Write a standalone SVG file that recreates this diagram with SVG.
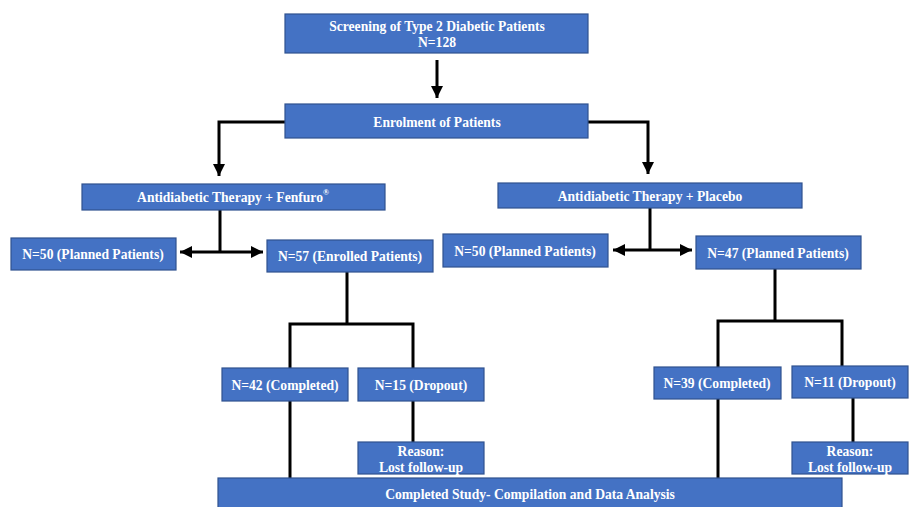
<svg xmlns="http://www.w3.org/2000/svg" width="909" height="507" viewBox="0 0 909 507">
<style>
.box{fill:#4472C4;stroke:#2F528F;stroke-width:1.2}
.t{font-family:"Liberation Serif","Times New Roman",serif;font-weight:bold;font-size:13.6px;fill:#ffffff;text-anchor:middle;dominant-baseline:central}
.c{fill:none;stroke:#000;stroke-width:3}
</style>
<defs>
<marker id="ah" markerUnits="userSpaceOnUse" markerWidth="14" markerHeight="14" viewBox="0 0 14 14" refX="12" refY="7" orient="auto">
<path d="M0,1 L12,7 L0,13 Z" fill="#000"/>
</marker>
</defs>
<rect width="909" height="507" fill="#fff"/>
<g id="connectors">
<path class="c" d="M437,60 V98" stroke-width="4" marker-end="url(#ah)"/>
<path class="c" d="M285,122 H219 V176" marker-end="url(#ah)"/>
<path class="c" d="M588,122 H648 V174" marker-end="url(#ah)"/>
<path class="c" d="M220,210 V252"/>
<path class="c" d="M220,252 H180" marker-end="url(#ah)"/>
<path class="c" d="M220,252 H263" marker-end="url(#ah)"/>
<path class="c" d="M650,208 V250"/>
<path class="c" d="M650,250 H613" marker-end="url(#ah)"/>
<path class="c" d="M650,250 H692" marker-end="url(#ah)"/>
<path class="c" d="M347,272 V324 M290,368 V324 H413 V368"/>
<path class="c" d="M413,401 V442"/>
<path class="c" d="M290,401 V478"/>
<path class="c" d="M775,269 V321 M718,367 V321 H842 V366"/>
<path class="c" d="M853,398 V442"/>
<path class="c" d="M718,399 V478"/>
</g>
<g id="screening"><rect class="box" x="285" y="14" width="303" height="39"/><text class="t" x="437" y="26">Screening of Type 2 Diabetic Patients</text><text class="t" x="437" y="42">N=128</text></g>
<g id="enrolment"><rect class="box" x="285" y="104" width="303" height="34"/><text class="t" x="437" y="122">Enrolment of Patients</text></g>
<g id="fenfuro"><rect class="box" x="82" y="184" width="303" height="26"/><text class="t" x="233" y="197">Antidiabetic Therapy + Fenfuro<tspan font-size="8" dy="-5">®</tspan></text></g>
<g id="placebo"><rect class="box" x="498" y="183" width="304" height="25"/><text class="t" x="650" y="196">Antidiabetic Therapy + Placebo</text></g>
<g id="planned-left"><rect class="box" x="11" y="238" width="165" height="32"/><text class="t" x="93" y="254">N=50 (Planned Patients)</text></g>
<g id="enrolled-left"><rect class="box" x="267" y="240" width="166" height="32"/><text class="t" x="350" y="256">N=57 (Enrolled Patients)</text></g>
<g id="planned-right1"><rect class="box" x="443" y="234" width="165" height="33"/><text class="t" x="525" y="251">N=50 (Planned Patients)</text></g>
<g id="planned-right2"><rect class="box" x="696" y="236" width="165" height="33"/><text class="t" x="778" y="253">N=47 (Planned Patients)</text></g>
<g id="completed-left"><rect class="box" x="222" y="368" width="126" height="33"/><text class="t" x="285" y="385">N=42 (Completed)</text></g>
<g id="dropout-left"><rect class="box" x="358" y="368" width="126" height="33"/><text class="t" x="421" y="385">N=15 (Dropout)</text></g>
<g id="reason-left"><rect class="box" x="358" y="442" width="126" height="32"/><text class="t" x="421" y="451">Reason:</text><text class="t" x="421" y="467">Lost follow-up</text></g>
<g id="completed-right"><rect class="box" x="654" y="367" width="127" height="32"/><text class="t" x="717" y="383">N=39 (Completed)</text></g>
<g id="dropout-right"><rect class="box" x="792" y="366" width="116" height="32"/><text class="t" x="850" y="382">N=11 (Dropout)</text></g>
<g id="reason-right"><rect class="box" x="792" y="442" width="116" height="32"/><text class="t" x="850" y="451">Reason:</text><text class="t" x="850" y="467">Lost follow-up</text></g>
<g id="completed-study"><rect class="box" x="218" y="478" width="624" height="30"/><text class="t" x="530" y="494">Completed Study- Compilation and Data Analysis</text></g>
</svg>
